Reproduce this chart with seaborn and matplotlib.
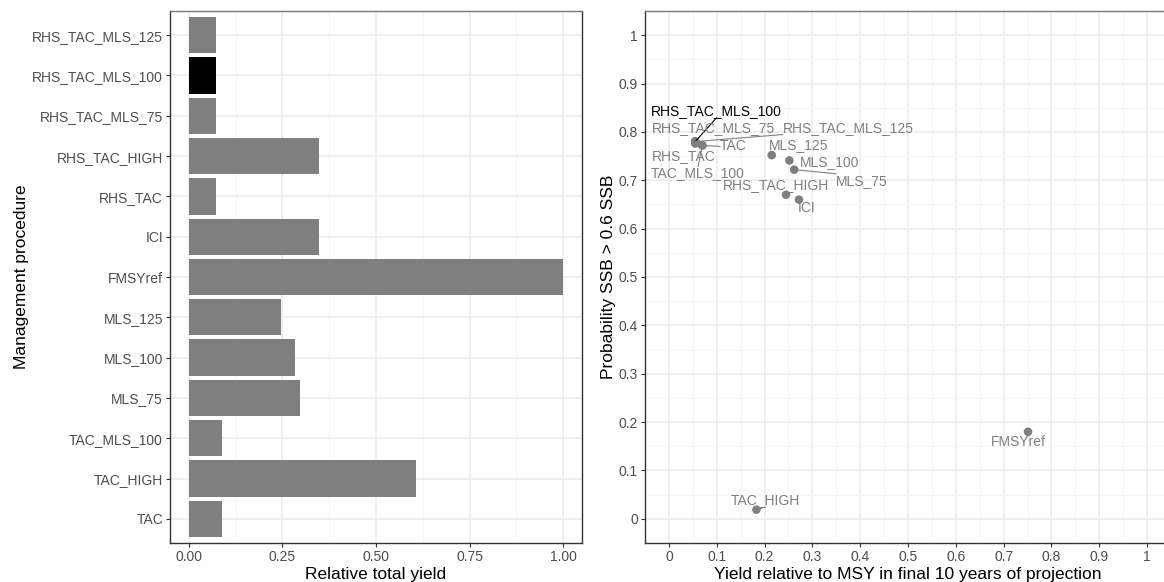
import matplotlib
matplotlib.use("Agg")
import matplotlib.pyplot as plt
from matplotlib.ticker import MultipleLocator, FixedLocator
import seaborn as sns
import pandas as pd

# Management procedures (top to bottom in the bar chart)
procedures = ["RHS_TAC_MLS_125", "RHS_TAC_MLS_100", "RHS_TAC_MLS_75", "RHS_TAC_HIGH",
              "RHS_TAC", "ICI", "FMSYref", "MLS_125", "MLS_100", "MLS_75",
              "TAC_MLS_100", "TAC_HIGH", "TAC"]
relative_yield = [0.072, 0.072, 0.072, 0.348, 0.072, 0.348, 1.00, 0.247, 0.285, 0.298,
                  0.088, 0.606, 0.088]
yield_vs_msy = [0.055, 0.055, 0.055, 0.245, 0.055, 0.272, 0.751, 0.215, 0.252, 0.262,
                0.07, 0.183, 0.07]
prob_ssb = [0.78, 0.78, 0.78, 0.67, 0.776, 0.66, 0.18, 0.752, 0.741, 0.722,
            0.772, 0.019, 0.772]
highlight = "RHS_TAC_MLS_100"

x_ticks_left = [0.0, 0.25, 0.5, 0.75, 1.0]
x_ticklabels_left = ["0.00", "0.25", "0.50", "0.75", "1.00"]
ticks_right = [0, 0.1, 0.2, 0.3, 0.4, 0.5, 0.6, 0.7, 0.8, 0.9, 1]
ticklabels_right = ["0", "0.1", "0.2", "0.3", "0.4", "0.5", "0.6", "0.7", "0.8", "0.9", "1"]

# Repelled label placement (data coordinates) and which labels get a leader line
label_xy = {
    "RHS_TAC_MLS_100": (0.100, 0.844),
    "RHS_TAC_MLS_75": (0.094, 0.809),
    "RHS_TAC_MLS_125": (0.375, 0.809),
    "TAC": (0.135, 0.770),
    "RHS_TAC": (0.031, 0.751),
    "TAC_MLS_100": (0.061, 0.714),
    "MLS_125": (0.271, 0.772),
    "MLS_100": (0.335, 0.737),
    "MLS_75": (0.404, 0.699),
    "RHS_TAC_HIGH": (0.223, 0.691),
    "ICI": (0.288, 0.643),
    "FMSYref": (0.731, 0.158),
    "TAC_HIGH": (0.202, 0.039),
}
leader_lines = ["RHS_TAC_MLS_100", "RHS_TAC_MLS_125", "TAC", "TAC_MLS_100", "MLS_75", "TAC_HIGH"]

df = pd.DataFrame({"procedure": procedures, "relative_yield": relative_yield,
                   "yield_vs_msy": yield_vs_msy, "prob_ssb": prob_ssb})

GREY = "#7f7f7f"
palette = {p: ("black" if p == highlight else GREY) for p in procedures}

sns.set_theme(style="white")
plt.rcParams["font.family"] = ["Liberation Sans", "DejaVu Sans"]

W, H = 1164, 582
fig = plt.figure(figsize=(W / 100, H / 100), dpi=100)
ax1 = fig.add_axes([170 / W, 39 / H, 412 / W, 532 / H])
ax2 = fig.add_axes([645 / W, 39 / H, 526 / W, 532 / H])

# ---- Left: relative total yield bars
sns.barplot(data=df, x="relative_yield", y="procedure", hue="procedure",
            order=procedures, hue_order=procedures, palette=palette, legend=False,
            width=0.9, saturation=1, linewidth=0, orient="h", ax=ax1)
ax1.set_xlim(-0.05, 1.05)
ax1.set_ylim(len(procedures) - 0.4, -0.6)
ax1.set_xticks(x_ticks_left)
ax1.set_xticklabels(x_ticklabels_left)
ax1.xaxis.set_minor_locator(FixedLocator([0.125, 0.375, 0.625, 0.875]))
ax1.set_xlabel("Relative total yield", fontsize=12.5, color="black", labelpad=2)
ax1.set_ylabel("Management procedure", fontsize=12.5, color="black", labelpad=2)

# ---- Right: trade-off scatter
order = [highlight] + [p for p in procedures if p != highlight]
df_pts = df.set_index("procedure").loc[order].reset_index()
sns.scatterplot(data=df_pts, x="yield_vs_msy", y="prob_ssb", hue="procedure",
                palette=palette, legend=False, s=38, linewidth=0, ax=ax2, zorder=3)
ax2.set_xlim(-0.05, 1.05)
ax2.set_ylim(-0.05, 1.05)
ax2.set_xticks(ticks_right)
ax2.set_xticklabels(ticklabels_right)
ax2.set_yticks(ticks_right)
ax2.set_yticklabels(ticklabels_right)
ax2.xaxis.set_minor_locator(MultipleLocator(0.05))
ax2.yaxis.set_minor_locator(MultipleLocator(0.05))
ax2.set_xlabel("Yield relative to MSY in final 10 years of projection", fontsize=12.5,
               color="black", labelpad=2)
ax2.set_ylabel("Probability SSB > 0.6 SSB", fontsize=12.5, color="black", labelpad=2)

for ax in (ax1, ax2):
    ax.set_axisbelow(True)
    ax.grid(which="major", color="#ebebeb", linewidth=1.1)
    ax.grid(which="minor", color="#f4f4f4", linewidth=0.6)
    ax.tick_params(axis="both", which="major", length=3, width=0.8, color="#333333",
                   labelsize=10, labelcolor="#4d4d4d", pad=2,
                   left=True, bottom=True)
    ax.tick_params(which="minor", length=0)
    for side, sp in ax.spines.items():
        sp.set_visible(True)
        sp.set_color("#333333")
        sp.set_linewidth(1.0)
    ax.spines["top"].set_color("#777777")
ax1.xaxis.grid(True, which="minor", color="#f4f4f4", linewidth=0.6)
ax1.yaxis.grid(True, which="major", color="#ebebeb", linewidth=1.1)

# Labels for the scatter
texts = {}
for name, x, y in zip(procedures, yield_vs_msy, prob_ssb):
    tx, ty = label_xy[name]
    col = "black" if name == highlight else GREY
    texts[name] = ax2.text(tx, ty, name, ha="center", va="center", fontsize=10,
                           color=col, zorder=4)

fig.canvas.draw()
renderer = fig.canvas.get_renderer()
inv = ax2.transData.inverted()
for name in leader_lines:
    i = procedures.index(name)
    px, py = ax2.transData.transform((yield_vs_msy[i], prob_ssb[i]))
    bb = texts[name].get_window_extent(renderer)
    if px < bb.x0:
        ex = bb.x0
    elif px > bb.x1:
        ex = bb.x1
    else:
        ex = 0.5 * (bb.x0 + bb.x1)
    if py < bb.y0:
        ey = bb.y0
    elif py > bb.y1:
        ey = bb.y1
    else:
        ey = 0.5 * (bb.y0 + bb.y1)
    (x0, y0), (x1, y1) = inv.transform([(px, py), (ex, ey)])
    col = "black" if name == highlight else GREY
    ax2.plot([x0, x1], [y0, y1], color=col, linewidth=0.8, zorder=3.5)

fig.savefig("out.png", dpi=100)
